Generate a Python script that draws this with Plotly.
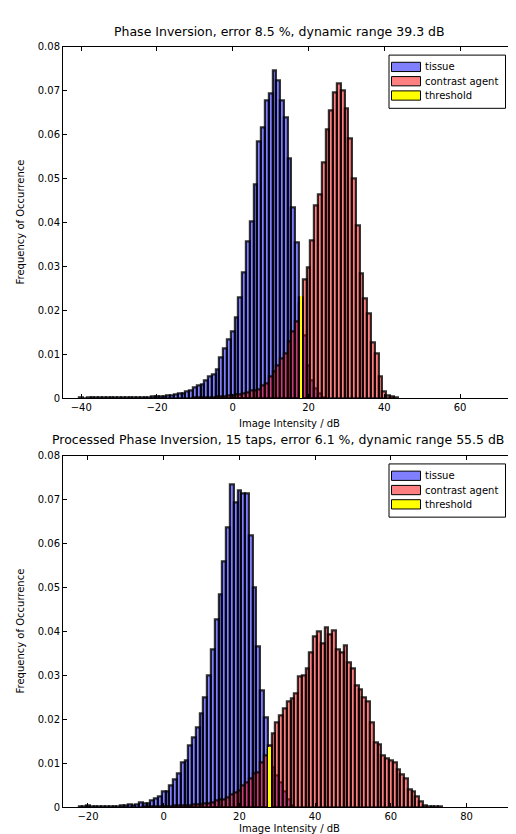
import plotly.graph_objects as go

# ---------------- data ----------------
top_tissue_bins = list(range(-40, 25))
top_tissue = [0.0002, 0.0, 0.0001, 0.0002, 0.0001, 0.0002, 0.0001, 0.0002, 0.0001, 0.0002,
              0.0002, 0.0001, 0.0002, 0.0001, 0.0002, 0.0002, 0.0003, 0.0003, 0.0003, 0.0004,
              0.0004, 0.0005, 0.0005, 0.0006, 0.0007, 0.0009, 0.0010, 0.0011, 0.0015, 0.0019,
              0.0024, 0.0030, 0.0032, 0.0041, 0.0049, 0.0054, 0.0066, 0.0092, 0.0114, 0.0134,
              0.0152, 0.0183, 0.0229, 0.0287, 0.0356, 0.0403, 0.0487, 0.0584, 0.0616, 0.0677,
              0.0694, 0.0745, 0.0723, 0.0678, 0.0639, 0.0545, 0.0433, 0.0355, 0.0230, 0.0142,
              0.0075, 0.0041, 0.0022, 0.0011, 0.0003]

top_agent_bins = list(range(-10, 44))
top_agent = [0.0001, 0.0001, 0.0002, 0.0002, 0.0003, 0.0003, 0.0004, 0.0005, 0.0005, 0.0006,
             0.0007, 0.0008, 0.0009, 0.0011, 0.0013, 0.0019, 0.0019, 0.0020, 0.0030, 0.0033,
             0.0050, 0.0061, 0.0075, 0.0090, 0.0101, 0.0129, 0.0151, 0.0175, 0.0215, 0.0270,
             0.0297, 0.0360, 0.0439, 0.0463, 0.0536, 0.0612, 0.0655, 0.0695, 0.0715, 0.0700,
             0.0660, 0.0590, 0.0500, 0.0392, 0.0285, 0.0227, 0.0193, 0.0128, 0.0103, 0.0049,
             0.0015, 0.0006, 0.0004, 0.0001]

top_threshold_x = [18]
top_threshold_y = [0.0234]

bot_tissue_bins = list(range(-22, 35))
bot_tissue = [0.0001, 0.0002, 0.0004, 0.0001, 0.0002, 0.0001, 0.0002, 0.0002, 0.0002, 0.0003,
              0.0003, 0.0004, 0.0004, 0.0006, 0.0005, 0.0006, 0.0011, 0.0009, 0.0009, 0.0015,
              0.0020, 0.0024, 0.0035, 0.0035, 0.0049, 0.0063, 0.0077, 0.0102, 0.0107, 0.0140,
              0.0159, 0.0182, 0.0213, 0.0250, 0.0300, 0.0360, 0.0428, 0.0483, 0.0560, 0.0637,
              0.0734, 0.0693, 0.0721, 0.0713, 0.0713, 0.0618, 0.0500, 0.0366, 0.0265, 0.0204,
              0.0130, 0.0090, 0.0073, 0.0056, 0.0035, 0.0019, 0.0004]

bot_agent_bins = list(range(-5, 74))
bot_agent = [0.0001, 0.0001, 0.0002, 0.0002, 0.0002, 0.0003, 0.0003, 0.0003, 0.0004, 0.0004,
             0.0005, 0.0004, 0.0005, 0.0006, 0.0006, 0.0007, 0.0008, 0.0009, 0.0011, 0.0015,
             0.0019, 0.0019, 0.0022, 0.0030, 0.0034, 0.0039, 0.0050, 0.0056, 0.0065, 0.0076,
             0.0080, 0.0102, 0.0117, 0.0140, 0.0168, 0.0194, 0.0208, 0.0224, 0.0241, 0.0248,
             0.0259, 0.0297, 0.0299, 0.0315, 0.0353, 0.0388, 0.0400, 0.0372, 0.0409, 0.0394,
             0.0403, 0.0360, 0.0353, 0.0368, 0.0330, 0.0315, 0.0276, 0.0269, 0.0250, 0.0240,
             0.0192, 0.0148, 0.0144, 0.0118, 0.0110, 0.0107, 0.0103, 0.0086, 0.0075, 0.0065,
             0.0041, 0.0037, 0.0024, 0.0013, 0.0005, 0.0003, 0.0003, 0.0003, 0.0002]

bot_threshold_x = [28]
bot_threshold_y = [0.0138]

top_title = "Phase Inversion, error 8.5 %, dynamic range 39.3 dB"
bot_title = "Processed Phase Inversion, 15 taps, error 6.1 %, dynamic range 55.5 dB"
x_title = "Image Intensity / dB"
y_title = "Frequency of Occurrence"
legend_labels = ["tissue", "contrast agent", "threshold"]
legend_colors = ["#8080FF", "#FF8080", "#FFFF00"]

top_xticks = [-40, -20, 0, 20, 40, 60]
bot_xticks = [-20, 0, 20, 40, 60, 80]
yticks = [0, 0.01, 0.02, 0.03, 0.04, 0.05, 0.06, 0.07, 0.08]
yticktext = ["0", "0.01", "0.02", "0.03", "0.04", "0.05", "0.06", "0.07", "0.08"]

# ---------------- figure ----------------
W, H = 516, 834
FONT = "DejaVu Sans"

def px(x):
    return x / W

def py(y):
    return 1 - y / H

BLUE = "rgba(0,0,255,0.5)"
RED = "rgba(255,0,0,0.5)"
EDGE = "rgba(0,0,0,0.8)"

fig = go.Figure()

def add_hist(xs, ys, color, xa, ya, width=1.0, lw=2.2):
    fig.add_trace(go.Bar(x=xs, y=ys, width=width, xaxis=xa, yaxis=ya,
                         marker=dict(color=color, line=dict(color=EDGE, width=lw)),
                         showlegend=False, hoverinfo="x+y"))

add_hist(top_tissue_bins, top_tissue, BLUE, "x", "y")
add_hist(top_agent_bins, top_agent, RED, "x", "y")
add_hist(top_threshold_x, top_threshold_y, "#FFFF00", "x", "y", width=0.45, lw=0)
add_hist(bot_tissue_bins, bot_tissue, BLUE, "x2", "y2")
add_hist(bot_agent_bins, bot_agent, RED, "x2", "y2")
add_hist(bot_threshold_x, bot_threshold_y, "#FFFF00", "x2", "y2", width=0.45, lw=0)

ax_common = dict(showline=True, linecolor="black", linewidth=1, mirror="ticks",
                 ticks="inside", ticklen=4, tickcolor="black", showgrid=False,
                 zeroline=False, tickfont=dict(family=FONT, size=10, color="black"))

xdom = [px(55), px(507)]
fig.update_layout(
    width=W, height=H, margin=dict(l=0, r=0, t=0, b=0),
    paper_bgcolor="white", plot_bgcolor="white",
    barmode="overlay", bargap=0,
    font=dict(family=FONT, size=10, color="black"),
    xaxis=dict(domain=xdom, anchor="y", range=[-44.8, 74.5],
               tickvals=top_xticks, **ax_common),
    yaxis=dict(domain=[py(390), py(33)], anchor="x", range=[0, 0.08],
               tickvals=yticks, ticktext=yticktext, **ax_common),
    xaxis2=dict(domain=xdom, anchor="y2", range=[-26.6, 92.8],
                tickvals=bot_xticks, **ax_common),
    yaxis2=dict(domain=[py(805), py(448)], anchor="x2", range=[0, 0.08],
                tickvals=yticks, ticktext=yticktext, **ax_common),
)

ann = []
shapes = []
# titles
ann.append(dict(text=top_title, x=px(271), y=py(18), xref="paper", yref="paper",
                showarrow=False, font=dict(family=FONT, size=12.5), xanchor="center", yanchor="middle"))
ann.append(dict(text=bot_title, x=px(270), y=py(432), xref="paper", yref="paper",
                showarrow=False, font=dict(family=FONT, size=12.5), xanchor="center", yanchor="middle"))
for yc in (415, 826):
    ann.append(dict(text=x_title, x=px(281), y=py(yc), xref="paper", yref="paper",
                    showarrow=False, font=dict(family=FONT, size=10), xanchor="center", yanchor="middle"))
for yc in (211.5, 626.5):
    ann.append(dict(text=y_title, x=px(12), y=py(yc), xref="paper", yref="paper", textangle=-90,
                    showarrow=False, font=dict(family=FONT, size=10), xanchor="center", yanchor="middle"))

# legends (drawn as boxes)
for top in (41.7, 456.5):
    shapes.append(dict(type="rect", xref="paper", yref="paper",
                       x0=px(381), x1=px(497.5), y0=py(top), y1=py(top + 54),
                       line=dict(color="black", width=1), fillcolor="white", layer="above"))
    for i, (lab, col) in enumerate(zip(legend_labels, legend_colors)):
        yc = top + 12 + i * 14.5
        shapes.append(dict(type="rect", xref="paper", yref="paper",
                           x0=px(383.5), x1=px(412.5), y0=py(yc - 4.7), y1=py(yc + 4.7),
                           line=dict(color="black", width=1), fillcolor=col, layer="above"))
        ann.append(dict(text=lab, x=px(414.5), y=py(yc), xref="paper", yref="paper",
                        showarrow=False, font=dict(family=FONT, size=10),
                        xanchor="left", yanchor="middle"))

fig.update_layout(annotations=ann, shapes=shapes)
fig.write_html("out.html")
